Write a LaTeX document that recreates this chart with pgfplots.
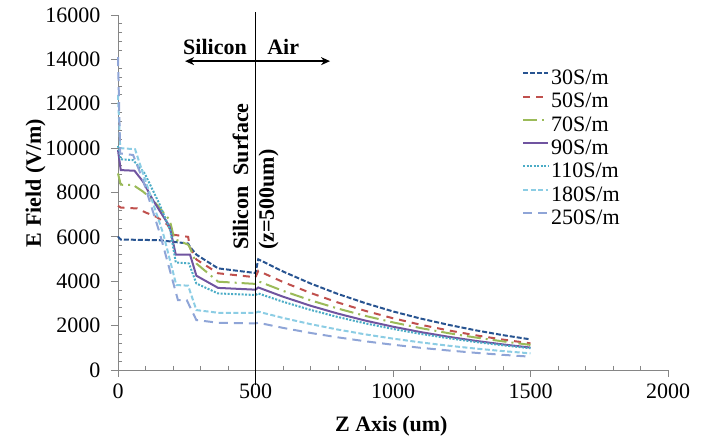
\documentclass[border=0pt]{standalone}
\usepackage{pgfplots}
\pgfplotsset{compat=1.18}
\usepackage{fontspec}
\setmainfont{Liberation Serif}
\usetikzlibrary{arrows.meta}
\definecolor{axisgray}{RGB}{134,134,134}
\definecolor{cA}{RGB}{40,84,145}
\definecolor{cB}{RGB}{192,80,77}
\definecolor{cC}{RGB}{155,187,89}
\definecolor{cD}{RGB}{112,84,160}
\definecolor{cE}{RGB}{75,172,198}
\definecolor{cF}{RGB}{140,205,228}
\definecolor{cG}{RGB}{143,165,215}
\begin{document}
\begin{tikzpicture}
\begin{axis}[
 at={(118pt,68pt)}, anchor=south west,
 width=550pt, height=355pt, scale only axis,
 xmin=0, xmax=2000, ymin=0, ymax=16000,
 xtick={0,500,...,2000}, ytick={0,2000,...,16000},
 minor x tick num=4, minor y tick num=4,
 axis x line*=bottom, axis y line*=left,
 axis line style={-, draw=axisgray, line width=0.8pt},
 major tick style={axisgray, line width=0.8pt},
 minor tick style={axisgray, line width=0.8pt},
 tick align=outside, major tick length=7pt, minor tick length=-4pt,
 scaled ticks=false,
 /pgf/number format/1000 sep={},
 /pgf/number format/assume math mode=true,
 tick label style={font=\fontsize{22}{26}\selectfont},
 xticklabel style={yshift=-3pt},
 yticklabel style={xshift=-7pt},
 xlabel={Z Axis (um)}, ylabel={E Field (V/m)},
 label style={font=\fontsize{22}{26}\selectfont\bfseries},
 xlabel style={at={(axis description cs:0.497,-0.172)}, anchor=base},
 ylabel style={at={(axis description cs:-0.150,0.527)}, anchor=center},
 clip=false,
 legend style={at={(axis description cs:0.7345,0.8497)}, anchor=north west,
   draw=none, fill=none, inner sep=0pt, row sep=0pt, column sep=2pt,
   font=\fontsize{22}{23}\selectfont,
   nodes={inner sep=0pt, text height=16pt, text depth=7.3pt}},
 legend cell align=left,
 legend image code/.code={\draw[#1] (0pt,7pt) -- (25pt,7pt);},
 every axis plot/.append style={line width=2pt},
]
\addplot[cA, dash pattern=on 5pt off 2pt] table {
x y
0 6010
10 5880
150 5850
200 5780
255 5700
262 5550
285 5200
364 4580
500 4370
510 4990
600 4440
700 3900
800 3425
900 3010
1000 2640
1100 2320
1200 2040
1300 1790
1400 1570
1500 1380
};
\addlegendentry{30S/m}
\addplot[cB, dash pattern=on 7pt off 6pt] table {
x y
0 7400
10 7320
70 7280
100 7100
140 6900
180 6550
200 6100
255 6000
262 5500
285 4980
364 4360
500 4180
510 4470
600 3966
700 3473
800 3040
900 2663
1000 2332
1100 2041
1200 1788
1300 1565
1400 1370
1500 1200
};
\addlegendentry{50S/m}
\addplot[cC, dash pattern=on 14pt off 5pt on 2pt off 5pt] table {
x y
0 8860
10 8350
55 8340
91 8040
127 7660
188 6760
205 5900
255 5650
262 5500
285 4800
364 3980
500 3880
510 4000
600 3567
700 3141
800 2767
900 2436
1000 2146
1100 1889
1200 1663
1300 1465
1400 1290
1500 1130
};
\addlegendentry{70S/m}
\addplot[cD] table {
x y
0 9910
10 9010
60 8980
91 8490
127 7660
188 6460
210 5200
262 5200
285 4250
364 3700
500 3620
510 3720
600 3304
700 2897
800 2540
900 2225
1000 1951
1100 1710
1200 1500
1300 1314
1400 1152
1500 1010
};
\addlegendentry{90S/m}
\addplot[cE, dash pattern=on 2pt off 1.5pt] table {
x y
0 10100
10 9500
55 9460
97 8860
150 7500
190 6300
210 4850
258 4800
285 3900
364 3450
500 3380
510 3450
600 3077
700 2709
800 2386
900 2101
1000 1851
1100 1629
1200 1435
1300 1263
1400 1113
1500 980
};
\addlegendentry{110S/m}
\addplot[cF, dash pattern=on 5pt off 2.5pt] table {
x y
0 12400
8 10000
62 9950
91 8860
164 6160
212 3830
255 3800
285 2700
364 2580
500 2580
510 2630
600 2347
700 2067
800 1821
900 1604
1000 1414
1100 1245
1200 1097
1300 966
1400 851
1500 750
};
\addlegendentry{180S/m}
\addplot[cG, dash pattern=on 9pt off 6pt] table {
x y
0 14100
8 9760
55 9690
91 8560
152 6160
218 3150
250 3150
285 2250
364 2130
500 2100
510 2130
600 1898
700 1670
800 1470
900 1293
1000 1138
1100 1001
1200 881
1300 775
1400 682
1500 600
};
\addlegendentry{250S/m}
\draw[black, line width=1.3pt] (axis cs:500,16130) -- (axis cs:500,-680);
\draw[black, line width=1.6pt, {Stealth[length=9pt,width=8pt]}-{Stealth[length=9pt,width=8pt]}] (axis cs:244,13920) -- (axis cs:771,13920);
\node[anchor=base east, font=\fontsize{22}{26}\selectfont\bfseries, inner sep=0pt] at (axis cs:469,14200) {Silicon};
\node[anchor=base west, font=\fontsize{22}{26}\selectfont\bfseries, inner sep=0pt] at (axis cs:542,14200) {Air};
\node[rotate=90, anchor=base west, font=\fontsize{22}{26}\selectfont\bfseries, inner sep=0pt] at (axis cs:473,5400) {Silicon\ \ Surface};
\node[rotate=90, anchor=base west, font=\fontsize{22}{26}\selectfont\bfseries, inner sep=0pt] at (axis cs:567,5400) {(z=500um)};
\end{axis}
\pgfresetboundingbox
\path[use as bounding box] (0,0) rectangle (707pt,438pt);
\end{tikzpicture}
\end{document}
